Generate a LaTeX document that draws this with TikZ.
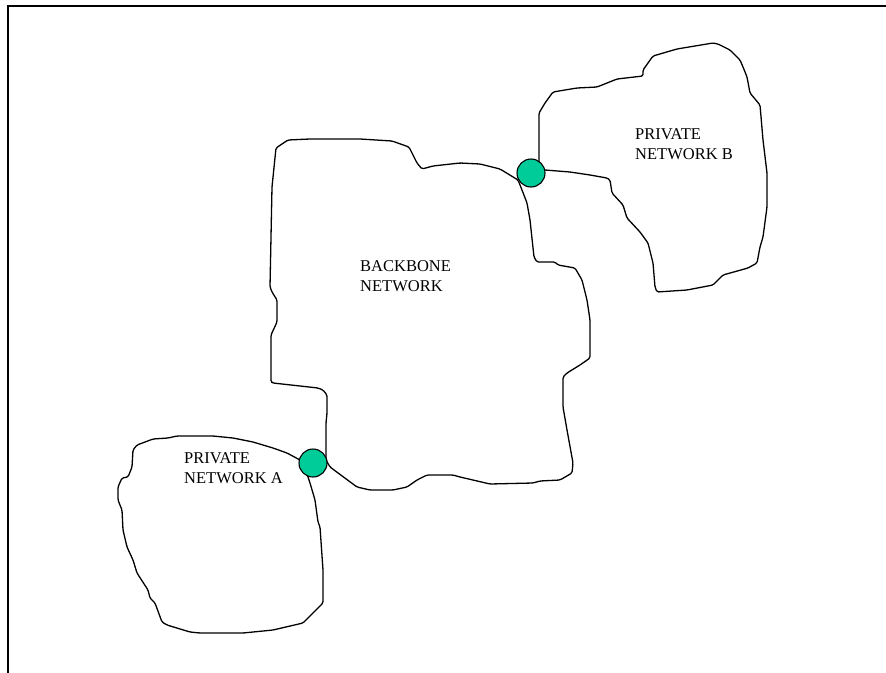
\documentclass[tikz,border=0pt]{standalone}
\usepackage{fontspec}
\setmainfont{Liberation Serif}
\definecolor{joint}{RGB}{0,204,153}
\begin{document}
\begin{tikzpicture}[x=1pt,y=-1pt,
  outline/.style={line width=1.3pt,line join=round,rounded corners=1.5pt},
  gateway/.style={circle,draw,line width=1.1pt,fill=joint,minimum size=28pt,inner sep=0pt},
  label/.style={anchor=base west,inner sep=0pt,align=left,font=\fontsize{16.5}{20}\selectfont}]
\useasboundingbox (0,0) rectangle (886,672);
% outer frame
\draw[line width=2pt] (8,6) rectangle (900,690);

% backbone network
\draw[outline] (276,148) -- (288,140) -- (310,139) -- (360,139) -- (392,141) -- (409,147)
  -- (417,163) -- (422,169) -- (433,166) -- (460,163) -- (480,164) -- (500,169) -- (518,180)
  -- (522,190) -- (527,203) -- (530,220) -- (534,257) -- (537,262) -- (555,262) -- (558,265)
  -- (575,268) -- (582,280) -- (587,300) -- (590,320) -- (590,358) -- (580,365) -- (567,373)
  -- (563,377) -- (563,407) -- (567,430) -- (573,463) -- (572,473) -- (560,480) -- (540,481)
  -- (533,483) -- (490,484) -- (460,477) -- (453,475) -- (427,475) -- (417,480) -- (407,487)
  -- (393,490) -- (370,490) -- (357,487) -- (330,467) -- (326,460) -- (326,423) -- (327,413)
  -- (327,395) -- (323,390) -- (318,388) -- (273,383) -- (271,382) -- (271,335) -- (277,322)
  -- (277,300) -- (272,292) -- (270,287) -- (272,187) -- cycle;

% private network B
\draw[outline] (539,165) -- (539,113) -- (545,103) -- (553,92) -- (577,88) -- (597,87)
  -- (607,83) -- (617,79) -- (643,76) -- (643,70) -- (653,56) -- (677,49) -- (713,43)
  -- (718,44) -- (730,50) -- (740,60) -- (743,67) -- (747,77) -- (750,93) -- (760,105)
  -- (763,140) -- (767,173) -- (767,207) -- (763,237) -- (760,247) -- (757,263) -- (748,268)
  -- (723,275) -- (713,285) -- (687,290) -- (657,292) -- (655,287) -- (653,263) -- (648,243)
  -- (640,232) -- (627,218) -- (623,205) -- (612,193) -- (610,180) -- (607,178) -- (590,175)
  -- (570,172) -- (545,170);

% private network A
\draw[outline] (300,460) -- (287,453) -- (273,448) -- (253,442) -- (233,438) -- (213,436)
  -- (177,436) -- (168,438) -- (153,439) -- (137,445) -- (133,450) -- (132,467) -- (128,477)
  -- (122,478) -- (118,487) -- (118,500) -- (122,510) -- (123,530) -- (127,547) -- (133,560)
  -- (137,573) -- (148,590) -- (150,598) -- (155,603) -- (162,622) -- (167,625) -- (190,632)
  -- (200,633) -- (243,633) -- (273,630) -- (303,623) -- (313,613) -- (323,603) -- (323,570)
  -- (320,527) -- (318,522) -- (315,500) -- (310,483) -- (307,474);

% gateways between the networks
\node[gateway] (gwB) at (531,173) {};
\node[gateway] (gwA) at (313,463) {};

% labels
\node[label] (backbone) at (360,291) {BACKBONE\\NETWORK};
\node[label] (netB) at (635,159) {PRIVATE\\NETWORK B};
\node[label] (netA) at (184,483) {PRIVATE\\NETWORK A};
\end{tikzpicture}
\end{document}
